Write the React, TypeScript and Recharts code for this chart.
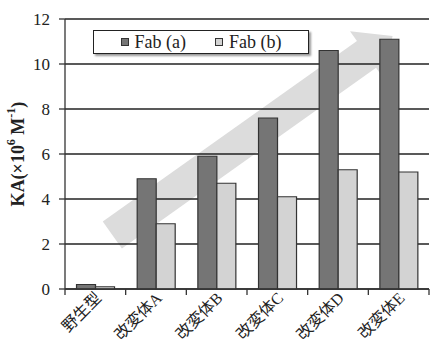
import React from 'react';
import { BarChart, Bar, XAxis, YAxis, CartesianGrid, Legend, Label } from 'recharts';

const categories = ['野生型', '改変体A', '改変体B', '改変体C', '改変体D', '改変体E'];
const fabA = [0.2, 4.9, 5.9, 7.6, 10.6, 11.1];
const fabB = [0.1, 2.9, 4.7, 4.1, 5.3, 5.2];
const yTicks = [0, 2, 4, 6, 8, 10, 12];
const seriesNames = ['Fab (a)', 'Fab (b)'];
const seriesColors = ['#757575', '#d3d3d3'];
// decorative trend arrow, in (category-position, value) units
const arrowTail = { x: 0.78, y: 2.4 };
const arrowTip = { x: 5.4, y: 11.25 };

const data = categories.map((c, i) => ({ name: c, a: fabA[i], b: fabB[i] }));
const yMax = yTicks[yTicks.length - 1];

const SERIF = "'Liberation Serif', 'Times New Roman', serif";
const CJK = "'Liberation Serif', 'Noto Sans CJK JP', serif";

const arrowPoints = (x1: number, y1: number, x2: number, y2: number) => {
  const dx = x2 - x1;
  const dy = y2 - y1;
  const len = Math.sqrt(dx * dx + dy * dy);
  const ux = dx / len;
  const uy = dy / len;
  const nx = -uy;
  const ny = ux;
  const sw = 16.5;
  const hw = 28.5;
  const hl = 32;
  const bx = x2 - ux * hl;
  const by = y2 - uy * hl;
  return [
    [x1 + nx * sw, y1 + ny * sw],
    [bx + nx * sw, by + ny * sw],
    [bx + nx * hw, by + ny * hw],
    [x2, y2],
    [bx - nx * hw, by - ny * hw],
    [bx - nx * sw, by - ny * sw],
    [x1 - nx * sw, y1 - ny * sw],
  ]
    .map((p) => `${p[0]},${p[1]}`)
    .join(' ');
};

const GridLine = (props: any) => {
  const { x1, y1, x2, y2, index, x, y, width, height } = props;
  const n = categories.length;
  const px = (v: number) => x + (width * v) / n;
  const py = (v: number) => y + height * (1 - v / yMax);
  return (
    <g>
      {index === 0 && (
        <polygon
          points={arrowPoints(px(arrowTail.x), py(arrowTail.y), px(arrowTip.x), py(arrowTip.y))}
          fill="#dcdcdc"
          stroke="none"
        />
      )}
      <line x1={x1} y1={y1} x2={x2} y2={y2} stroke="#222" strokeWidth={1.3} />
    </g>
  );
};

const XTick = (props: any) => {
  const { x, y, payload, index } = props;
  const half = payload && payload.offset ? payload.offset : 30.3;
  const last = index === categories.length - 1;
  return (
    <g>
      <line x1={x - half} y1={y} x2={x - half} y2={y + 6} stroke="#333" strokeWidth={1.3} />
      {last && <line x1={x + half} y1={y} x2={x + half} y2={y + 6} stroke="#333" strokeWidth={1.3} />}
      <text
        x={x + 7}
        y={y + 10}
        textAnchor="end"
        transform={`rotate(-45, ${x + 7}, ${y + 10})`}
        fontFamily={CJK}
        fontSize={16}
        fill="#222"
      >
        {payload.value}
      </text>
    </g>
  );
};

const YLabel = (props: any) => {
  const { viewBox } = props;
  const cx = 18;
  const cy = viewBox.y + viewBox.height / 2;
  return (
    <text
      x={cx}
      y={cy}
      transform={`rotate(-90, ${cx}, ${cy})`}
      textAnchor="middle"
      dominantBaseline="central"
      fontFamily={SERIF}
      fontWeight="bold"
      fontSize={18}
      fill="#222"
    >
      <tspan>KA(×10</tspan>
      <tspan fontSize={12} dy={-7}>6</tspan>
      <tspan dy={7}> M</tspan>
      <tspan fontSize={12} dy={-7}>-1</tspan>
      <tspan dy={7}>)</tspan>
    </text>
  );
};

const LegendBox = () => (
  <div
    style={{
      width: 216,
      height: 24,
      border: '1.3px solid #222',
      background: '#fff',
      boxShadow: '2px 2px 2px #999',
      display: 'flex',
      alignItems: 'center',
      justifyContent: 'center',
      boxSizing: 'border-box',
      fontFamily: SERIF,
      fontSize: 18,
      color: '#222',
    }}
  >
    {seriesNames.map((n, i) => (
      <span key={n} style={{ display: 'flex', alignItems: 'center', marginLeft: i === 0 ? 0 : 29 }}>
        <span
          style={{
            display: 'inline-block',
            width: 6,
            height: 6,
            background: seriesColors[i],
            border: '1px solid #333',
            marginRight: 6,
          }}
        />
        {n}
      </span>
    ))}
  </div>
);

export default function App() {
  return (
    <div style={{ position: 'absolute', left: 0, top: 0, background: '#fff' }}>
      <BarChart
        width={431}
        height={353}
        data={data}
        margin={{ top: 19, right: 2, bottom: 0, left: 0 }}
        barCategoryGap="19%"
        barGap={0}
      >
        <CartesianGrid vertical={false} horizontal={GridLine} />
        <XAxis
          dataKey="name"
          height={64}
          axisLine={{ stroke: '#333', strokeWidth: 1.3 }}
          tickLine={false}
          tickSize={0}
          tickMargin={0}
          interval={0}
          tick={<XTick />}
        />
        <YAxis
          width={65}
          domain={[0, yMax]}
          ticks={yTicks}
          axisLine={{ stroke: '#333', strokeWidth: 1.3 }}
          tickLine={{ stroke: '#333', strokeWidth: 1.3 }}
          tickSize={6}
          tickMargin={9}
          tick={{ fontFamily: SERIF, fontSize: 17, fill: '#222' }}
        >
          <Label content={<YLabel />} />
        </YAxis>
        <Legend
          layout="horizontal"
          verticalAlign="middle"
          align="center"
          content={<LegendBox />}
          wrapperStyle={{ position: 'absolute', left: 93, top: 30, width: 216, height: 24 }}
        />
        <Bar dataKey="a" name={seriesNames[0]} fill={seriesColors[0]} stroke="#333" strokeWidth={1.2} isAnimationActive={false} />
        <Bar dataKey="b" name={seriesNames[1]} fill={seriesColors[1]} stroke="#333" strokeWidth={1.2} isAnimationActive={false} />
      </BarChart>
    </div>
  );
}
